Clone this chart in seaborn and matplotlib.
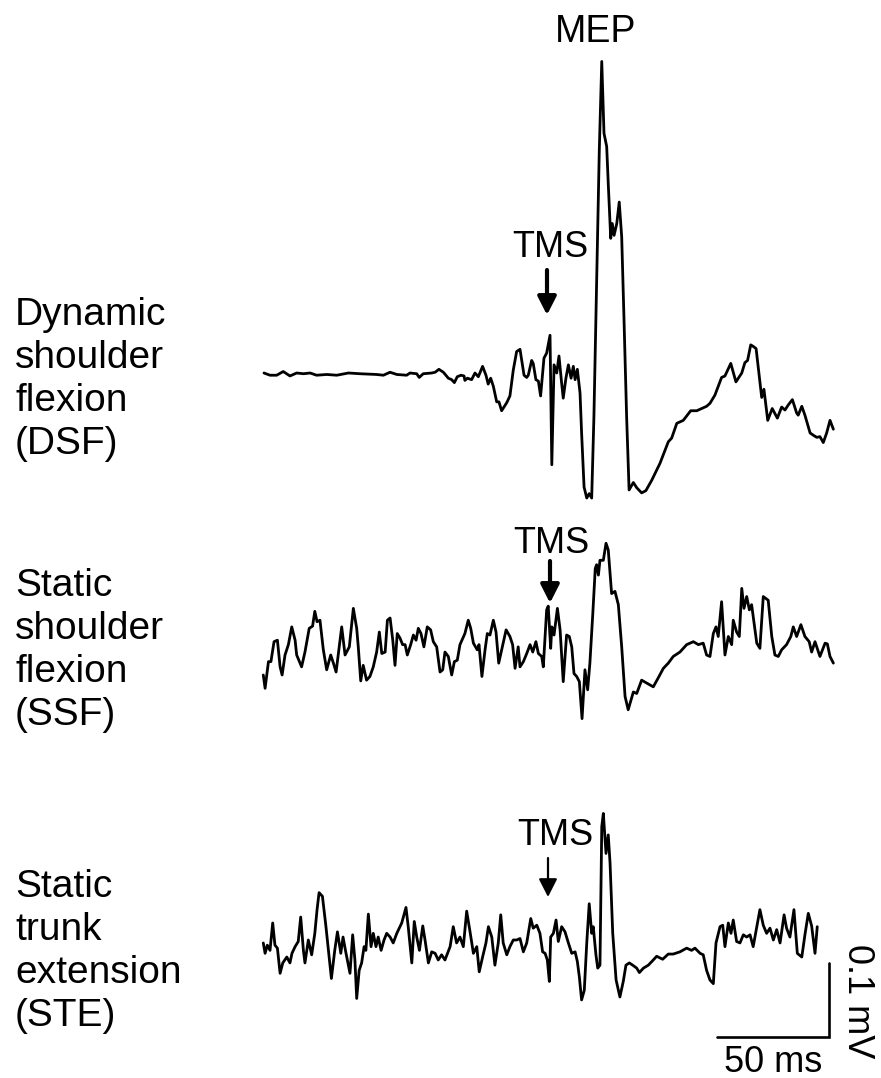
import matplotlib
matplotlib.use("Agg")
import matplotlib.pyplot as plt
import seaborn as sns
import pandas as pd
import numpy as np

# EMG traces: time relative to TMS (ms), amplitude (uV)
dsf_time = [-126.8, -124.1, -121.1, -118.2, -115.2, -112.2, -109.2, -106.2, -103.3, -98.8,
            -94.3, -89.1, -83.9, -76.5, -73.5, -70.5, -67.5, -63.1, -61.6, -58.6,
            -57.5, -55.7, -51.9, -50.4, -48.7, -46.7, -44.5, -43.0, -41.8, -40.5,
            -38.8, -37.5, -37.1, -36.0, -34.1, -32.6, -31.1, -29.2, -27.7, -26.7,
            -25.6, -24.4, -22.9, -21.9, -20.7, -18.4, -17.0, -15.5, -14.0, -12.5,
            -10.7, -9.5, -8.8, -7.3, -6.6, -5.4, -4.3, -3.3, -1.8, -0.6,
            0.9, 1.7, 2.7, 3.9, 4.9, 6.1, 6.8, 8.0, 9.1, 10.3,
            11.3, 12.1, 13.1, 14.3, 15.0, 16.1, 17.3, 18.4, 19.5, 20.5,
            21.7, 22.9, 24.0, 25.0, 26.2, 26.9, 28.0, 28.7, 29.5, 30.7,
            31.8, 32.9, 33.9, 35.1, 36.2, 38.1, 39.6, 41.8, 43.7, 46.3,
            50.0, 53.7, 55.2, 57.5, 60.4, 63.7, 66.4, 70.8, 72.3, 74.5,
            77.5, 79.0, 81.6, 83.9, 86.5, 87.9, 89.1, 90.5, 91.6, 92.9,
            95.4, 96.4, 98.1, 100.1, 102.4, 104.3, 105.8, 107.3, 109.1, 111.0,
            111.7, 113.3, 114.7, 117.0, 118.4, 120.0, 121.4, 122.9, 124.4, 125.9,
            127.4]
dsf_uv = [0, -3, -3, 2, -4, 0, -1, 0, -3, -2,
          -3, 0, -1, -2, -3, 1, -2, -3, 0, -1,
          -6, -1, 0, 1, 5, 1, -7, -9, -13, -5,
          -3, -4, -10, -7, -9, 0, -5, 9, -3, -15,
          -7, -18, -39, -39, -51, -40, -31, 4, 29, 32,
          -3, -6, -3, 17, 13, -9, -11, -31, 20, 27,
          51, -124, 11, 0, 23, -14, -34, -7, 11, -7,
          9, -9, 5, -27, -81, -154, -169, -163, -169, -59,
          121, 301, 421, 324, 306, 256, 182, 202, 186, 202,
          231, 184, 76, -59, -158, -148, -155, -162, -159, -145,
          -122, -93, -88, -68, -64, -51, -51, -45, -41, -30,
          -6, -4, 13, -12, 0, 14, 17, 38, 36, 33,
          -33, -22, -64, -48, -61, -46, -50, -43, -36, -54,
          -57, -45, -57, -81, -84, -87, -86, -94, -81, -64,
          -76]

ssf_time = [-127.1, -126.3, -124.8, -123.7, -122.3, -120.8, -119.6, -118.7, -117.4, -115.9,
            -114.4, -112.9, -112.2, -110.0, -108.5, -106.6, -105.1, -104.1, -103.1, -101.8,
            -100.3, -98.8, -97.0, -95.8, -94.6, -92.1, -90.6, -88.7, -86.9, -85.4,
            -84.7, -83.6, -82.5, -81.0, -79.5, -78.0, -76.5, -75.3, -74.2, -72.7,
            -71.7, -70.5, -69.3, -68.3, -67.3, -66.1, -64.9, -63.8, -62.8, -61.3,
            -60.1, -58.9, -57.9, -56.7, -55.4, -53.9, -52.4, -51.2, -49.7, -48.2,
            -47.0, -46.0, -44.5, -43.0, -41.8, -40.5, -39.3, -37.1, -35.6, -34.5,
            -33.3, -31.6, -30.8, -29.5, -28.1, -27.1, -25.9, -24.4, -23.2, -22.0,
            -20.7, -18.7, -17.0, -15.8, -14.7, -13.3, -12.5, -11.0, -9.5, -8.0,
            -6.8, -5.4, -4.3, -2.8, -2.1, -0.6, 0.1, 1.2, 1.7, 2.7,
            4.2, 5.4, 6.8, 8.3, 9.5, 10.6, 11.6, 12.8, 14.0, 15.2,
            16.5, 17.7, 18.7, 20.0, 21.1, 21.7, 22.5, 23.2, 24.7, 25.9,
            26.9, 28.4, 29.9, 31.4, 32.9, 34.4, 35.8, 38.1, 39.6, 41.8,
            44.1, 47.0, 49.2, 51.5, 53.7, 55.9, 58.9, 61.9, 64.9, 67.1,
            69.3, 70.8, 72.3, 73.8, 75.0, 76.0, 77.5, 79.0, 80.5, 82.0,
            82.7, 84.2, 85.4, 86.5, 87.5, 88.7, 89.9, 90.9, 93.2, 94.6,
            96.1, 98.3, 99.9, 101.3, 102.8, 104.3, 106.5, 108.4, 109.5, 111.0,
            112.9, 114.7, 116.6, 117.7, 119.2, 121.4, 123.7, 124.7, 125.9, 127.4]
ssf_uv = [-27, -45, -9, -9, 18, 20, -16, -27, 0, 14,
          38, 20, 0, -16, 4, 36, 39, 59, 45, 47,
          7, -20, 0, -11, -23, 38, 0, 11, 63, 36,
          11, -35, -14, -34, -29, -16, 4, 31, 2, 4,
          47, 50, 20, -14, 29, 23, 14, 14, 0, 14,
          27, 20, 36, 29, 11, 38, 34, 18, 11, -23,
          -20, 4, -2, -27, -9, -7, 14, 29, 47, 36,
          16, 7, 14, -29, 7, 29, 27, 47, 31, -11,
          7, 34, 25, 14, -18, 11, -16, -9, 2, 14,
          4, 18, 2, -2, -16, 61, 66, 9, 38, 27,
          63, 34, -36, 27, 25, 11, -25, -29, -36, -86,
          -20, -47, -11, 56, 117, 122, 108, 128, 128, 151,
          142, 83, 86, 68, 11, -56, -74, -50, -52, -34,
          -38, -43, -31, -18, -11, -2, 4, 14, 18, 14,
          16, 0, -2, 29, 38, 25, 72, 0, 25, 14,
          47, 31, 25, 90, 63, 79, 61, 68, 16, 9,
          79, 74, 25, 0, -2, 7, 14, 25, 38, 25,
          41, 25, 18, 4, 18, -2, 16, 15, -2, -11]

ste_time = [-127.1, -126.3, -125.3, -124.1, -122.9, -121.9, -120.8, -119.6, -118.4, -116.6,
            -115.2, -114.3, -112.9, -111.5, -110.4, -109.2, -108.5, -107.0, -105.5, -104.1,
            -103.1, -102.2, -100.7, -99.2, -98.0, -96.7, -95.2, -94.0, -92.5, -91.5,
            -90.3, -88.4, -87.2, -86.2, -85.4, -84.3, -83.2, -82.1, -81.3, -80.2,
            -79.0, -78.0, -76.8, -75.8, -74.5, -73.2, -72.0, -70.5, -69.1, -67.5,
            -65.3, -63.4, -62.4, -60.8, -59.7, -58.6, -57.4, -55.9, -54.9, -53.4,
            -51.9, -50.4, -49.0, -47.5, -46.0, -43.7, -42.3, -40.8, -39.3, -37.8,
            -36.3, -34.8, -33.3, -31.8, -30.7, -29.2, -27.7, -26.6, -25.1, -23.7,
            -22.2, -21.1, -20.0, -18.4, -17.0, -15.5, -14.0, -12.5, -11.0, -9.5,
            -7.7, -6.6, -5.0, -3.6, -2.4, -1.3, -0.3, 0.6, 1.2, 2.4,
            3.6, 4.6, 6.1, 7.6, 9.1, 10.6, 12.1, 13.1, 14.0, 15.0,
            16.2, 17.3, 18.4, 19.5, 20.2, 21.4, 22.2, 23.2, 24.0, 24.7,
            25.9, 26.9, 27.7, 28.9, 30.4, 32.1, 33.6, 34.8, 36.3, 37.8,
            39.6, 40.8, 42.6, 44.8, 47.0, 48.5, 51.2, 53.7, 55.9, 58.9,
            61.9, 64.1, 65.6, 67.9, 69.3, 70.8, 72.3, 73.8, 75.0, 76.8,
            78.0, 79.0, 80.5, 81.7, 82.7, 84.2, 85.7, 87.2, 88.7, 90.2,
            91.6, 94.6, 96.1, 97.6, 99.1, 100.6, 102.1, 103.6, 105.4, 106.5,
            108.0, 109.8, 111.3, 113.3, 114.7, 116.2, 117.7, 119.2, 120.2]
ste_uv = [-4, -18, -7, -14, 23, -7, -11, -45, -31, -23,
          -31, -18, -9, -2, 31, -14, -31, 0, -20, 9,
          41, 64, 59, 20, -14, -52, -14, 11, -18, 4,
          -16, -45, 7, -27, -79, -41, -31, -9, -14, 35,
          -9, 9, -9, 4, -14, 0, 9, 4, -4, 9,
          23, 44, 18, -31, 25, 4, -14, 19, 0, -31,
          -16, -18, -27, -20, -27, -9, 18, -4, 4, -9,
          39, 11, -18, -9, -43, -23, -4, 18, 4, -34,
          -4, 34, -4, -20, -9, 0, 0, 2, -16, -4,
          29, 16, 20, 9, -16, -18, -27, -56, 4, 9,
          27, -2, 18, 11, -4, -18, -16, -29, -50, -81,
          -68, -4, 49, 9, 18, -20, -38, -34, 153, 171,
          117, 142, 104, 9, -54, -77, -56, -34, -31, -34,
          -38, -44, -38, -34, -27, -22, -26, -19, -19, -16,
          -11, -14, -11, -18, -20, -41, -54, -59, -4, 18,
          20, -9, 23, 9, 27, -2, -4, 7, 4, 7,
          -9, 41, 20, 9, 16, 0, 14, -4, 34, 16,
          4, 41, -18, -23, 7, 36, 19, -18, 18]

conditions = ["DSF", "SSF", "STE"]
condition_labels = ["Dynamic\nshoulder\nflexion\n(DSF)",
                    "Static\nshoulder\nflexion\n(SSF)",
                    "Static\ntrunk\nextension\n(STE)"]
scale_ms = 50
scale_mv = 0.1

# layout (figure pixels)
W, H = 881, 1078
MS_PER_PX = 50 / 112
MV_PER_PX = 0.1 / 74
TMS_PX = 548
baseline_px = {"DSF": 373, "SSF": 655, "STE": 940}
label_top_px = [297, 568, 869]
tms_label_px = [(550, 257), (551, 553), (555, 845)]
tms_arrow_px = [(547, 270, 315, 3.0), (550, 561, 603, 3.0), (548, 858, 897, 1.6)]

frames = []
for name, t, v in zip(conditions, [dsf_time, ssf_time, ste_time], [dsf_uv, ssf_uv, ste_uv]):
    frames.append(pd.DataFrame({"time": t, "amp": np.array(v) / 1000.0, "condition": name}))
df = pd.concat(frames, ignore_index=True)
df["y"] = df["amp"] + df["condition"].map({k: (H - p) * MV_PER_PX for k, p in baseline_px.items()})

sns.set_style("white")
plt.rcParams["font.family"] = ["Liberation Sans", "DejaVu Sans"]
plt.rcParams["text.color"] = "black"

fig = plt.figure(figsize=(W / 100, H / 100), dpi=100)
ax = fig.add_axes([0, 0, 1, 1])
sns.lineplot(data=df, x="time", y="y", units="condition", estimator=None, sort=False,
             color="black", lw=2.0, legend=False, ax=ax)

# scale bar
t0 = (717 - TMS_PX) * MS_PER_PX
v0 = (H - 1037) * MV_PER_PX
ax.plot([t0, t0 + scale_ms, t0 + scale_ms], [v0, v0, v0 + scale_mv], color="black", lw=1.9,
        solid_joinstyle="miter")

ax.set_xlim(-TMS_PX * MS_PER_PX, (W - TMS_PX) * MS_PER_PX)
ax.set_ylim(0, H * MV_PER_PX)
ax.axis("off")

for lab, top in zip(condition_labels, label_top_px):
    fig.text(15 / W, 1 - top / H, lab, ha="left", va="top", fontsize=28, linespacing=1.25)

for (x, y) in tms_label_px:
    fig.text(x / W, 1 - y / H, "TMS", ha="center", va="baseline", fontsize=26)

for (x, y0, y1, lw) in tms_arrow_px:
    ax.annotate("", xy=(x, H - y1), xytext=(x, H - y0), xycoords="figure pixels",
                textcoords="figure pixels",
                arrowprops=dict(arrowstyle="-|>,head_length=0.55,head_width=0.28",
                                mutation_scale=20, lw=lw, color="black",
                                shrinkA=0, shrinkB=0))

fig.text(596 / W, 1 - 42 / H, "MEP", ha="center", va="baseline", fontsize=27)
fig.text(773 / W, 1 - 1072 / H, f"{scale_ms} ms", ha="center", va="baseline", fontsize=26)
fig.text(857 / W, 1 - 1001 / H, f"{scale_mv} mV", ha="center", va="center", fontsize=26,
         rotation=-90)

plt.savefig("out.png", dpi=100)
